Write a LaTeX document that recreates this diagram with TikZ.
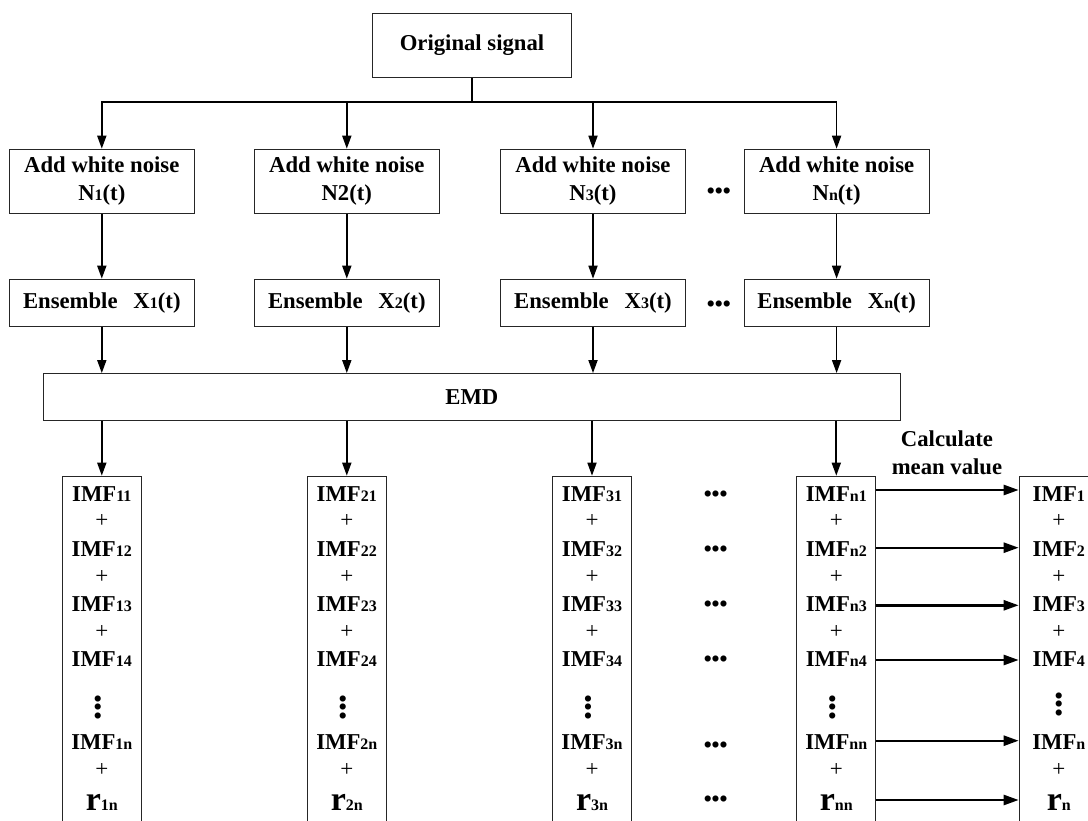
\documentclass[tikz,border=0pt]{standalone}
\usepackage{fontspec}
\setmainfont{Liberation Serif}
\usetikzlibrary{arrows.meta}
\newcommand{\lowidx}[1]{{\fontsize{16}{16}\selectfont #1}}
\newcommand{\bigresid}{{\fontsize{34}{34}\selectfont r}}
\newcommand{\colondots}{\vbox{\offinterlineskip\hbox{\smash{•}}\vskip8.3pt\hbox{\smash{•}}\vskip8.3pt\hbox{\smash{•}}}}
\tikzset{
  box/.style={draw=black!85, line width=1.2pt, rectangle, inner sep=0pt, fill=white,
    font=\bfseries\fontsize{22.7}{28}\selectfont, align=center},
  lbl/.style={font=\bfseries\fontsize{22.7}{28}\selectfont, align=center, inner sep=0pt},
  plus/.style={font=\mdseries\fontsize{23}{23}\selectfont, inner sep=0pt},
  hdots/.style={font=\bfseries\fontsize{22.7}{28}\selectfont, inner sep=0pt},
  vdots/.style={font=\bfseries\fontsize{22.7}{28}\selectfont, inner sep=0pt},
  arr/.style={line width=1.7pt, -{Triangle[length=13pt,width=9pt]}},
  marr/.style={line width=2.4pt, -{Triangle[length=15pt,width=10pt]}},
  bus/.style={line width=1.7pt}
}
\begin{document}
\begin{tikzpicture}[x=1pt,y=-1pt]
\useasboundingbox (0,0) rectangle (1088,821);
\clip (0,0) rectangle (1088,821);

\node[box, minimum width=199pt, minimum height=64.4pt] (orig) at (472,45.5) {Original signal};
\coordinate (bus) at (472,102.3);

% add white noise boxes
\node[box, minimum width=185pt, minimum height=64.4pt] (a1) at (101.8,181.5) {Add white noise\\N\lowidx{1}(t)};
\node[box, minimum width=185pt, minimum height=64.4pt] (a2) at (346.8,181.5) {Add white noise\\N2(t)};
\node[box, minimum width=185pt, minimum height=64.4pt] (a3) at (593,181.5) {Add white noise\\N\lowidx{3}(t)};
\node[box, minimum width=185pt, minimum height=64.4pt] (a4) at (836.6,181.5) {Add white noise\\N\lowidx{n}(t)};

% ensemble boxes
\node[box, minimum width=185pt, minimum height=47pt] (e1) at (101.8,302.8) {Ensemble\hspace{0.7em}X\lowidx{1}(t)};
\node[box, minimum width=185pt, minimum height=47pt] (e2) at (346.8,302.8) {Ensemble\hspace{0.7em}X\lowidx{2}(t)};
\node[box, minimum width=185pt, minimum height=47pt] (e3) at (593,302.8) {Ensemble\hspace{0.7em}X\lowidx{3}(t)};
\node[box, minimum width=185pt, minimum height=47pt] (e4) at (836.6,302.8) {Ensemble\hspace{0.7em}X\lowidx{n}(t)};

\node[hdots, anchor=base] (d1) at (718.8,199) {•••};
\node[hdots, anchor=base] (d2) at (718.8,312) {•••};

% EMD
\node[box, minimum width=857pt, minimum height=47pt] (emd) at (471.85,397.2) {EMD};

% IMF boxes (open at the bottom)
\node[box, minimum width=79pt, minimum height=400pt] (b1) at (101.8,676.3) {};
\node[box, minimum width=79pt, minimum height=400pt] (b2) at (346.8,676.3) {};
\node[box, minimum width=79pt, minimum height=400pt] (b3) at (592,676.3) {};
\node[box, minimum width=79pt, minimum height=400pt] (b4) at (836.3,676.3) {};
\node[box, minimum width=79pt, minimum height=400pt] (b5) at (1058.8,676.3) {};

% connectors
\draw[bus] (orig.south) -- (bus);
\draw[arr] (bus) -| (a1.north);
\draw[arr] (bus) -| (a4.north);
\draw[arr] (a2.north |- bus) -- (a2.north);
\draw[arr] (a3.north |- bus) -- (a3.north);
\foreach \k in {1,2,3,4}{
  \draw[arr] (a\k.south) -- (e\k.north);
  \draw[arr] (e\k.south) -- (e\k.south |- emd.north);
  \draw[arr] (b\k.north |- emd.south) -- (b\k.north);
}

% column contents
\foreach \k/\s in {1/1,2/2,3/3,4/n}{
  \node[lbl, anchor=base] (t\k-1) at (b\k.center |- 0,501) {IMF\lowidx{\s1}};
  \node[plus] (p\k-1) at (b\k.center |- 0,521) {+};
  \node[lbl, anchor=base] (t\k-2) at (b\k.center |- 0,556) {IMF\lowidx{\s2}};
  \node[plus] (p\k-2) at (b\k.center |- 0,577) {+};
  \node[lbl, anchor=base] (t\k-3) at (b\k.center |- 0,611) {IMF\lowidx{\s3}};
  \node[plus] (p\k-3) at (b\k.center |- 0,631.7) {+};
  \node[lbl, anchor=base] (t\k-4) at (b\k.center |- 0,666) {IMF\lowidx{\s4}};
  \node[vdots, xshift=-4pt] (v\k) at (b\k.center |- 0,714.9) {\colondots};
  \node[lbl, anchor=base] (t\k-5) at (b\k.center |- 0,749.3) {IMF\lowidx{\s n}};
  \node[plus] (p\k-5) at (b\k.center |- 0,770) {+};
  \node[lbl, anchor=base] (t\k-6) at (b\k.center |- 0,810) {\bigresid\lowidx{\s n}};
}

% result column
\node[lbl, anchor=base] (r1) at (b5.center |- 0,501) {IMF\lowidx{1}};
\node[plus] (q1) at (b5.center |- 0,521) {+};
\node[lbl, anchor=base] (r2) at (b5.center |- 0,556) {IMF\lowidx{2}};
\node[plus] (q2) at (b5.center |- 0,577) {+};
\node[lbl, anchor=base] (r3) at (b5.center |- 0,611) {IMF\lowidx{3}};
\node[plus] (q3) at (b5.center |- 0,631.7) {+};
\node[lbl, anchor=base] (r4) at (b5.center |- 0,666) {IMF\lowidx{4}};
\node[vdots] (w) at (b5.center |- 0,711.7) {\colondots};
\node[lbl, anchor=base] (r5) at (b5.center |- 0,749.3) {IMF\lowidx{n}};
\node[plus] (q5) at (b5.center |- 0,770) {+};
\node[lbl, anchor=base] (r6) at (b5.center |- 0,810) {\bigresid\lowidx{n}};

% dots between column 3 and n
\foreach \i/\yy in {1/501,2/556,3/611,4/666,5/752.5,6/806}{
  \node[hdots, anchor=base] (h\i) at (715.7,\yy) {•••};
}

% mean value arrows
\node[lbl] (calc) at (947,453) {Calculate\\mean value};
\foreach \i/\yy in {1/490,2/547.7,3/605.3,4/660,5/740.7,6/800}{
  \coordinate (row\i) at (0,\yy);
  \draw[marr] (b4.east |- row\i) -- (b5.west |- row\i);
}
\end{tikzpicture}
\end{document}
